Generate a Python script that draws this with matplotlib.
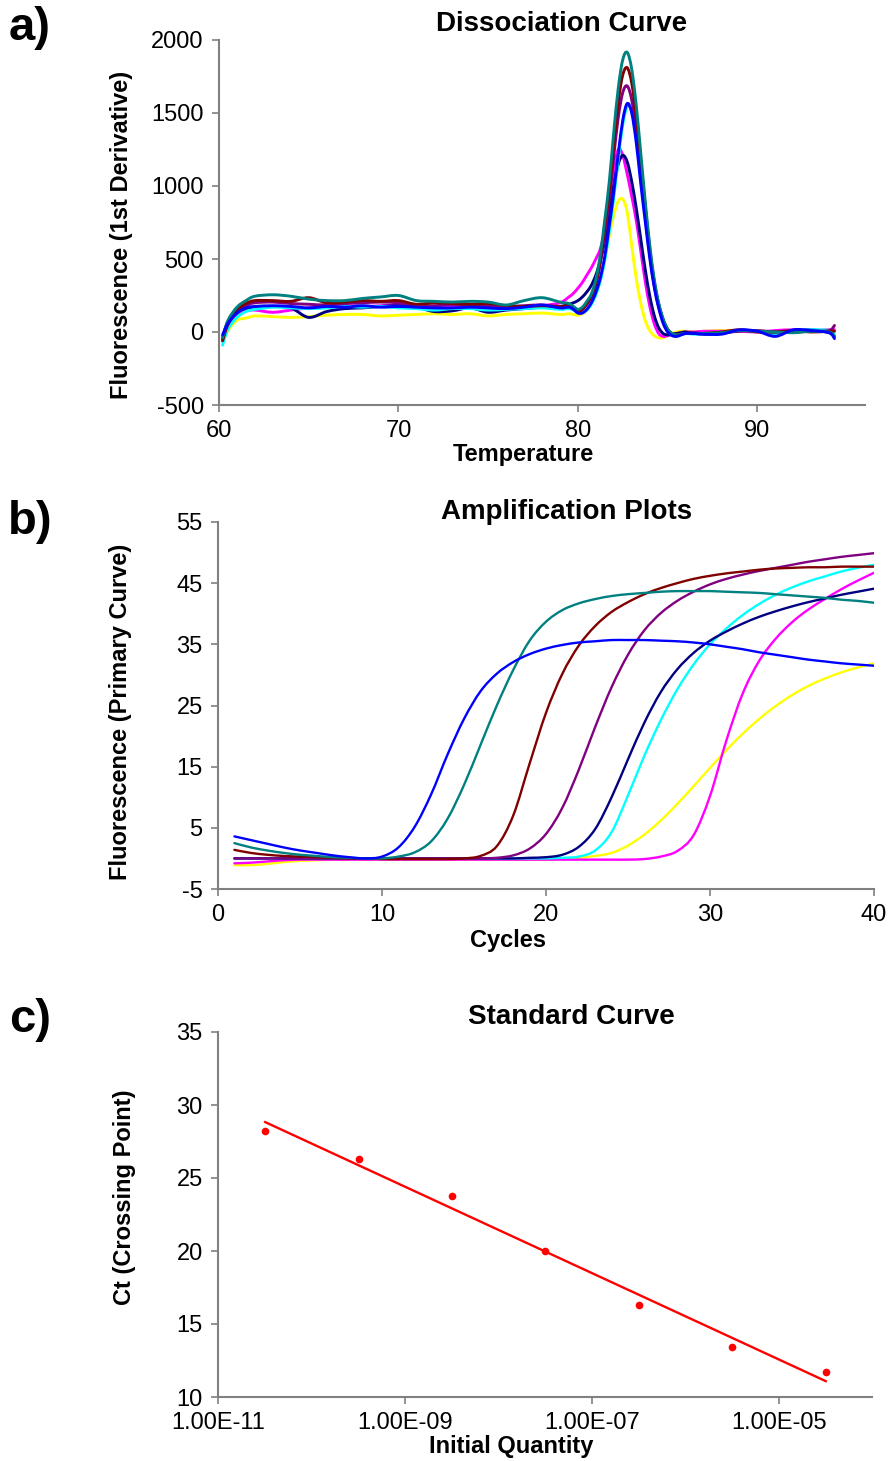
import matplotlib
matplotlib.use("Agg")
import matplotlib.pyplot as plt
import numpy as np
from matplotlib.path import Path
from matplotlib.patches import PathPatch

plt.rcParams['font.family'] = ['Liberation Sans', 'DejaVu Sans']
plt.rcParams['axes.unicode_minus'] = False

W, H = 891, 1461

# ---- a) dissociation curve data (temperature vs -dF/dT) ----
temps = [60.2, 60.5, 61, 61.5, 62, 63, 64, 65, 66, 67, 68, 69, 70, 71, 72, 73, 74, 75, 76, 77, 78, 79,
         79.5, 79.75, 80, 80.25, 80.5, 80.75, 81, 81.25, 81.5, 81.75, 82, 82.25, 82.5, 82.75,
         83, 83.25, 83.5, 83.75, 84, 84.25, 84.5, 84.75, 85, 85.25, 85.5, 85.75, 86,
         86.5, 87, 88, 89, 90, 91, 92, 93, 94, 94.3]

melt_teal = [-40, 80, 170, 215, 245, 255, 245, 225, 215, 215, 230, 240, 250, 215, 210, 205, 210, 205, 185, 215, 235, 205,
             195, 175, 155, 170, 210, 260, 360, 530, 770, 1030, 1370, 1670, 1865, 1915,
             1800, 1555, 1230, 900, 600, 365, 200, 90, 20, -10, -20, -15, -10,
             -10, -10, -5, 10, 5, 0, -5, 5, 0, -30]
melt_maroon = [-60, 60, 150, 195, 215, 215, 210, 235, 200, 205, 215, 210, 215, 190, 200, 195, 190, 195, 180, 175, 180, 175,
               180, 165, 140, 155, 195, 245, 340, 500, 730, 975, 1290, 1575, 1760, 1810,
               1705, 1475, 1170, 860, 575, 350, 190, 85, 20, -15, -20, -15, -10,
               -10, -10, 0, 15, 0, 0, 10, 0, 5, 5]
melt_purple = [-50, 50, 140, 180, 200, 205, 195, 190, 185, 195, 200, 205, 200, 185, 180, 190, 185, 180, 175, 180, 185, 170,
               175, 160, 145, 155, 190, 240, 325, 470, 680, 910, 1205, 1470, 1640, 1685,
               1590, 1375, 1090, 800, 535, 325, 175, 80, 15, -15, -20, -15, -10,
               -5, -10, -5, 5, 10, 0, 0, 5, 10, 45]
melt_cyan = [-90, 20, 100, 140, 155, 170, 165, 160, 165, 175, 170, 175, 165, 160, 150, 160, 160, 150, 155, 160, 165, 155,
             160, 150, 135, 135, 150, 190, 255, 350, 490, 690, 920, 1180, 1420, 1545,
             1510, 1330, 1060, 800, 550, 340, 190, 80, 15, -20, -30, -20, -10,
             -15, -10, -5, 10, 5, -10, 5, 15, 10, -20]
melt_magenta = [-60, 40, 120, 145, 150, 135, 150, 165, 175, 180, 175, 180, 185, 180, 170, 175, 180, 185, 165, 170, 180, 200,
                240, 265, 300, 340, 390, 440, 500, 570, 700, 880, 1100, 1250, 1210, 1080,
                930, 765, 560, 350, 180, 60, -10, -30, -25, -15, -10, -5, 0,
                0, 5, 5, 5, 0, 10, 15, 10, 15, 15]
melt_navy = [-40, 70, 140, 160, 170, 175, 165, 100, 140, 160, 165, 175, 180, 170, 140, 145, 165, 135, 150, 160, 170, 175,
             190, 200, 215, 240, 275, 320, 390, 490, 630, 810, 1000, 1150, 1210, 1165,
             1030, 850, 640, 430, 250, 115, 30, -10, -20, -15, -10, -5, 0,
             -10, -15, -10, 10, 5, -10, 5, 15, -5, -30]
melt_yellow = [-70, 10, 80, 95, 110, 105, 100, 105, 115, 120, 120, 110, 115, 120, 125, 120, 125, 110, 120, 125, 130, 120,
               125, 120, 115, 125, 150, 195, 265, 370, 500, 660, 800, 895, 910, 820,
               590, 370, 200, 80, 10, -25, -40, -40, -25, -10, 0, 5, 5,
               0, 5, 10, 10, 5, 0, 5, 10, 10, 10]
melt_blue = [-20, 60, 130, 165, 175, 180, 175, 165, 175, 170, 180, 170, 175, 170, 165, 165, 170, 165, 160, 170, 185, 165,
             170, 155, 130, 130, 155, 200, 270, 370, 520, 730, 960, 1220, 1450, 1565,
             1500, 1300, 1020, 760, 510, 310, 165, 60, 0, -25, -30, -20, -10,
             -10, -15, -15, 15, 5, -30, 15, 10, -5, -45]

# ---- b) amplification plots (cycle vs fluorescence) ----
cycles = list(range(1, 41))
amp_blue = [3.6, 3.0, 2.4, 1.8, 1.3, 0.9, 0.5, 0.2, 0.0, 0.3, 1.8, 5.2, 10.5, 17.0, 22.8, 27.3, 30.2, 32.1, 33.4, 34.3,
            34.9, 35.3, 35.5, 35.7, 35.7, 35.7, 35.6, 35.5, 35.3, 35.0, 34.6, 34.2, 33.7, 33.3, 32.9, 32.5, 32.2, 31.9, 31.7, 31.5]
amp_teal = [2.5, 1.8, 1.3, 0.9, 0.6, 0.4, 0.2, 0.1, 0.0, 0.0, 0.3, 1.0, 2.8, 6.5, 12.0, 18.5, 25.0, 30.8, 35.6, 38.7,
            40.6, 41.7, 42.4, 42.9, 43.2, 43.4, 43.6, 43.7, 43.7, 43.7, 43.6, 43.5, 43.4, 43.2, 43.0, 42.8, 42.6, 42.3, 42.1, 41.8]
amp_maroon = [1.4, 0.9, 0.6, 0.4, 0.3, 0.2, 0.1, 0.0, 0.0, -0.1, -0.1, -0.1, -0.1, -0.1, 0.0, 0.4, 2.0, 7.0, 15.5, 23.8,
              30.2, 34.8, 38.0, 40.3, 41.9, 43.2, 44.2, 45.0, 45.7, 46.2, 46.6, 46.9, 47.2, 47.4, 47.5, 47.6, 47.6, 47.7, 47.7, 47.7]
amp_purple = [0.0, 0.0, 0.0, 0.0, 0.0, 0.0, 0.0, 0.0, 0.0, 0.0, 0.0, 0.0, 0.0, 0.0, 0.0, 0.0, 0.1, 0.5, 1.6, 4.0,
              8.3, 14.5, 21.5, 28.0, 33.3, 37.3, 40.1, 42.1, 43.6, 44.8, 45.7, 46.4, 47.0, 47.5, 48.0, 48.5, 48.9, 49.3, 49.6, 49.9]
amp_navy = [0.0, 0.0, 0.0, 0.0, 0.0, 0.0, 0.0, 0.0, 0.0, 0.0, 0.0, 0.0, 0.0, 0.0, 0.0, 0.0, 0.0, 0.0, 0.1, 0.2,
            0.6, 1.9, 4.8, 10.0, 16.2, 22.2, 27.2, 30.9, 33.6, 35.6, 37.1, 38.4, 39.5, 40.4, 41.2, 41.9, 42.5, 43.1, 43.6, 44.1]
amp_cyan = [0.0, 0.0, 0.0, 0.0, 0.0, 0.0, 0.0, 0.0, 0.0, 0.0, 0.0, 0.0, 0.0, 0.0, 0.0, 0.0, 0.0, 0.0, 0.0, 0.0,
            0.1, 0.3, 1.3, 4.3, 10.3, 16.8, 22.6, 27.6, 31.7, 35.0, 37.6, 39.8, 41.6, 43.1, 44.3, 45.3, 46.1, 46.9, 47.5, 48.0]
amp_yellow = [-1.1, -1.1, -0.9, -0.6, -0.4, -0.3, -0.2, -0.2, -0.2, -0.2, -0.2, -0.2, -0.2, -0.2, -0.2, -0.2, -0.2, -0.2, -0.2, -0.2,
              -0.1, 0.1, 0.4, 0.9, 2.1, 3.9, 6.2, 8.9, 11.8, 14.8, 17.7, 20.4, 22.8, 24.9, 26.7, 28.2, 29.4, 30.4, 31.2, 31.9]
amp_magenta = [-0.8, -0.7, -0.5, -0.3, -0.2, -0.2, -0.2, -0.2, -0.2, -0.2, -0.2, -0.2, -0.2, -0.2, -0.2, -0.2, -0.2, -0.2, -0.2, -0.2,
               -0.2, -0.2, -0.2, -0.2, -0.2, -0.1, 0.3, 1.2, 3.8, 10.2, 19.3, 27.0, 32.3, 35.9, 38.6, 40.7, 42.4, 44.0, 45.4, 46.7]

# ---- c) standard curve ----
quantities = [3.2e-11, 3.2e-10, 3.2e-9, 3.2e-8, 3.2e-7, 3.2e-6, 3.2e-5]
ct_values = [28.2, 26.3, 23.8, 20.0, 16.3, 13.4, 11.7]
std_ticks = [1e-11, 1e-9, 1e-7, 1e-5]
std_ticklabels = ['1.00E-11', '1.00E-09', '1.00E-07', '1.00E-05']

TEAL, MAROON, PURPLE, BLUE = '#008080', '#800000', '#800080', '#0000FF'
CYAN, MAGENTA, NAVY, YELLOW = '#00FFFF', '#FF00FF', '#000080', '#FFFF00'
AXIS_GRAY = '#808080'


def frac(x, y):
    return x / W, 1 - y / H


def smooth_line(ax, xs, ys, color, lw):
    # Excel-style "smoothed line": cubic Bezier segments through the data points
    pts = np.column_stack([xs, ys]).astype(float)
    n = len(pts)
    verts = [pts[0]]
    codes = [Path.MOVETO]
    for i in range(n - 1):
        p0 = pts[i - 1] if i > 0 else pts[i]
        p1, p2 = pts[i], pts[i + 1]
        p3 = pts[i + 2] if i + 2 < n else pts[i + 1]
        verts += [p1 + (p2 - p0) / 6, p2 - (p3 - p1) / 6, p2]
        codes += [Path.CURVE4] * 3
    ax.add_patch(PathPatch(Path(verts, codes), fill=False, edgecolor=color, lw=lw,
                           capstyle='round', joinstyle='round'))


def style_axes(ax):
    for s in ['top', 'right']:
        ax.spines[s].set_visible(False)
    for s in ['left', 'bottom']:
        ax.spines[s].set_color(AXIS_GRAY)
        ax.spines[s].set_linewidth(1.5)
    ax.tick_params(which='major', direction='out', length=5, width=1.2, color=AXIS_GRAY,
                   labelsize=17, labelcolor='black', pad=6)
    ax.tick_params(which='minor', length=0)


fig = plt.figure(figsize=(W / 100, H / 100), dpi=100)

# a)
ax1 = fig.add_axes([219 / W, 1 - 405 / H, (865 - 219) / W, 365 / H])
melt_series = [(melt_yellow, YELLOW), (melt_magenta, MAGENTA), (melt_navy, NAVY), (melt_cyan, CYAN),
               (melt_purple, PURPLE), (melt_maroon, MAROON), (melt_teal, TEAL), (melt_blue, BLUE)]
for vals, col in melt_series:
    smooth_line(ax1, temps, vals, col, 2.1)
ax1.set_xlim(60, 96)
ax1.set_ylim(-500, 2000)
ax1.set_xticks([60, 70, 80, 90])
ax1.set_yticks([-500, 0, 500, 1000, 1500, 2000])
style_axes(ax1)

# b)
ax2 = fig.add_axes([218 / W, 1 - 889 / H, (874 - 218) / W, (889 - 522) / H])
amp_series = [(amp_yellow, YELLOW), (amp_magenta, MAGENTA), (amp_cyan, CYAN), (amp_navy, NAVY),
              (amp_purple, PURPLE), (amp_maroon, MAROON), (amp_teal, TEAL), (amp_blue, BLUE)]
for vals, col in amp_series:
    smooth_line(ax2, cycles, vals, col, 1.7)
ax2.set_xlim(0, 40)
ax2.set_ylim(-5, 55)
ax2.set_xticks([0, 10, 20, 30, 40])
ax2.set_yticks([-5, 5, 15, 25, 35, 45, 55])
style_axes(ax2)

# c)
ax3 = fig.add_axes([218 / W, 1 - 1397 / H, (872 - 218) / W, (1397 - 1032) / H])
logq = np.log10(quantities)
slope, intercept = np.polyfit(logq, ct_values, 1)
ax3.plot(quantities, slope * logq + intercept, color='#FF0000', lw=1.7)
ax3.plot(quantities, ct_values, 'o', color='#FF0000', markersize=4.5)
ax3.set_xscale('log')
ax3.set_xlim(1e-11, 1e-4)
ax3.set_ylim(10, 35)
ax3.set_xticks(std_ticks)
ax3.set_xticklabels(std_ticklabels)
ax3.set_yticks([10, 15, 20, 25, 30, 35])
style_axes(ax3)

# titles, labels, panel letters
bold = dict(fontweight='bold', ha='center', va='center')
for txt, (x, y) in [('Dissociation Curve', (562, 24)), ('Amplification Plots', (567, 512)),
                    ('Standard Curve', (571, 1017))]:
    fig.text(*frac(x, y), txt, fontsize=20, **bold)
for txt, (x, y) in [('Temperature', (523, 454)), ('Cycles', (508, 941)),
                    ('Initial Quantity', (511, 1446))]:
    fig.text(*frac(x, y), txt, fontsize=17, **bold)
for txt, (x, y) in [('Fluorescence (1st Derivative)', (122, 235)),
                    ('Fluorescence (Primary Curve)', (120, 712)),
                    ('Ct (Crossing Point)', (125, 1197))]:
    fig.text(*frac(x, y), txt, fontsize=17, rotation=90, **bold)
for txt, (x, y) in [('a)', (30, 28)), ('b)', (30, 522)), ('c)', (30, 1020))]:
    fig.text(*frac(x, y), txt, fontsize=34, **bold)

fig.savefig('out.png', dpi=100)
